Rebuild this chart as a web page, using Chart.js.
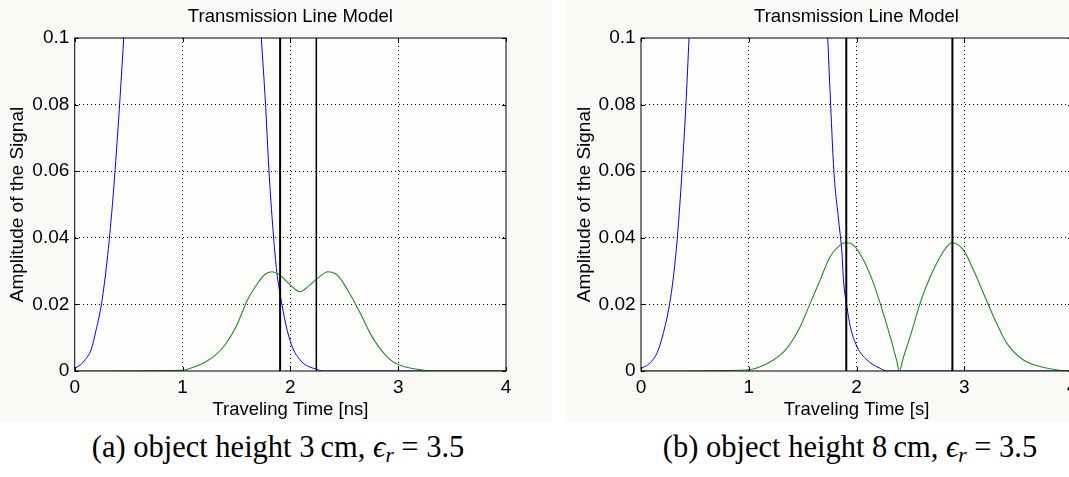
<!DOCTYPE html>
<html>
<head>
<meta charset="utf-8">
<title>Transmission Line Model</title>
<script src="https://cdn.jsdelivr.net/npm/chart.js@4.4.1/dist/chart.umd.min.js"></script>
<style>
  html, body { margin:0; padding:0; background:#ffffff; }
  body { width:1069px; height:477px; overflow:hidden; position:relative; }
  .fig { position:absolute; top:0; height:422px; background:#f9faf6; overflow:hidden; }
  #figA { left:0; width:552px; }
  #figB { left:567px; width:502px; }
  canvas { display:block; }
  .cap { position:absolute; top:430px; transform:translateX(-50%); font-family:"Liberation Serif","DejaVu Serif",serif; font-size:30.5px; line-height:34px; white-space:nowrap; color:#000; }
  .cap i { font-style:italic; }
  .cap sub { font-size:0.7em; vertical-align:-0.25em; line-height:0; }
</style>
</head>
<body>
<div class="fig" id="figA"><canvas id="chartA" width="552" height="422"></canvas></div>
<div class="fig" id="figB"><canvas id="chartB" width="540" height="422"></canvas></div>
<div class="cap" id="capA" style="left:278px">(a) object height 3&thinsp;cm, <i>ϵ</i><sub><i>r</i></sub> = 3.5</div>
<div class="cap" id="capB" style="left:850px">(b) object height 8&thinsp;cm, <i>ϵ</i><sub><i>r</i></sub> = 3.5</div>
<script>
// ---------------- data ----------------
const xTickValues = [0, 1, 2, 3, 4];
const xTickLabels = ['0', '1', '2', '3', '4'];
const yTickValues = [0, 0.02, 0.04, 0.06, 0.08, 0.1];
const yTickLabels = ['0', '0.02', '0.04', '0.06', '0.08', '0.1'];
const chartTitle = 'Transmission Line Model';
const yAxisTitle = 'Amplitude of the Signal';
const xAxisTitleA = 'Traveling Time [ns]';
const xAxisTitleB = 'Traveling Time [s]';

// (a) object height 3 cm
const blueTimeA = [0, 0.05, 0.1, 0.15, 0.2, 0.25, 0.3, 0.35, 0.4, 0.455, 0.5, 0.6, 0.8, 1.1, 1.4, 1.6, 1.68, 1.731, 1.77, 1.80, 1.84, 1.87, 1.89, 1.92, 1.97, 2.03, 2.08, 2.12, 2.18, 2.245, 2.3, 3.2, 4];
const blueAmpA  = [0.0008, 0.0018, 0.0035, 0.0062, 0.0125, 0.0205, 0.033, 0.05, 0.072, 0.1, 0.125, 0.2, 0.38, 0.5, 0.38, 0.2, 0.13, 0.1, 0.08, 0.061, 0.042, 0.031, 0.026, 0.0203, 0.0123, 0.0063, 0.0038, 0.0023, 0.0012, 0.0005, 0, 0, 0];
const greenTimeA = [0, 1.0, 1.1, 1.2, 1.3, 1.4, 1.5, 1.6, 1.7, 1.76, 1.83, 1.9, 2.0, 2.09, 2.18, 2.25, 2.35, 2.42, 2.46, 2.55, 2.65, 2.74, 2.83, 2.95, 3.08, 3.2, 3.3, 4];
const greenAmpA  = [0, 0.0002, 0.0011, 0.0025, 0.0046, 0.0081, 0.0135, 0.0212, 0.0265, 0.0289, 0.0298, 0.0289, 0.0258, 0.0238, 0.0258, 0.0278, 0.0298, 0.0292, 0.0279, 0.0233, 0.0173, 0.0113, 0.0068, 0.0028, 0.0011, 0.0004, 0, 0];
const markerTimesA = [1.905, 2.241];
const markerWidthsA = [2, 1.5];

// (b) object height 8 cm
const blueTimeB = [0, 0.05, 0.1, 0.15, 0.2, 0.265, 0.3, 0.337, 0.381, 0.417, 0.446, 0.5, 0.6, 0.8, 1.1, 1.4, 1.6, 1.68, 1.733, 1.76, 1.79, 1.835, 1.866, 1.88, 1.91, 1.943, 2.005, 2.098, 2.22, 2.28, 3.83, 4];
const blueAmpB  = [0.0008, 0.0016, 0.003, 0.0055, 0.0105, 0.02, 0.028, 0.04, 0.06, 0.08, 0.1, 0.135, 0.21, 0.39, 0.5, 0.39, 0.21, 0.135, 0.1, 0.08, 0.06, 0.045, 0.035, 0.027, 0.0195, 0.0133, 0.0073, 0.0033, 0.0008, 0, 0, 0];
const greenTimeB = [0, 0.98, 1.105, 1.229, 1.353, 1.477, 1.57, 1.662, 1.755, 1.848, 1.904, 1.972, 2.065, 2.158, 2.22, 2.313, 2.37, 2.40, 2.43, 2.498, 2.59, 2.684, 2.777, 2.85, 2.891, 2.993, 3.086, 3.179, 3.272, 3.396, 3.55, 3.71, 3.864, 4];
const greenAmpB  = [0, 0.0003, 0.0013, 0.0033, 0.0068, 0.0133, 0.0203, 0.0273, 0.0343, 0.0378, 0.0385, 0.0378, 0.0333, 0.0263, 0.0203, 0.0103, 0.0035, 0, 0.0035, 0.0103, 0.0203, 0.0283, 0.0343, 0.0378, 0.0385, 0.0363, 0.0303, 0.0233, 0.0163, 0.0083, 0.0033, 0.0013, 0.0003, 0];
const markerTimesB = [1.905, 2.89];
const markerWidthsB = [2, 2];

// ---------------- helpers ----------------
const FONT = '"Liberation Sans", Arial, Helvetica, sans-serif';
const toPoints = (ts, vs) => ts.map((t, i) => ({ x: t, y: vs[i] }));

const plotBackground = {
  id: 'plotBackground',
  beforeDraw(chart) {
    const { ctx, chartArea: a } = chart;
    ctx.save();
    ctx.fillStyle = '#fdfefc';
    ctx.fillRect(a.left, a.top, a.right - a.left, a.bottom - a.top);
    ctx.restore();
  }
};

const frameAndTicks = {
  id: 'frameAndTicks',
  afterDatasetsDraw(chart) {
    const { ctx, chartArea: a, scales } = chart;
    ctx.save();
    ctx.strokeStyle = '#000';
    ctx.lineWidth = 1;
    ctx.strokeRect(a.left, a.top, a.right - a.left, a.bottom - a.top);
    const L = 4;
    ctx.beginPath();
    xTickValues.forEach(v => {
      const px = Math.round(scales.x.getPixelForValue(v)) + 0.5;
      ctx.moveTo(px, a.bottom); ctx.lineTo(px, a.bottom - L);
      ctx.moveTo(px, a.top); ctx.lineTo(px, a.top + L);
    });
    yTickValues.forEach(v => {
      const py = Math.round(scales.y.getPixelForValue(v)) + 0.5;
      ctx.moveTo(a.left, py); ctx.lineTo(a.left + L, py);
      ctx.moveTo(a.right, py); ctx.lineTo(a.right - L, py);
    });
    ctx.stroke();
    ctx.restore();
  }
};

function gridColor(ctx) {
  const n = ctx.chart.scales[ctx.scale.id].ticks.length;
  return (ctx.index === 0 || ctx.index === n - 1) ? 'rgba(0,0,0,0)' : '#000';
}

function makeChart(canvasId, blueT, blueV, greenT, greenV, markerT, markerW, xTitle, plotLeft, plotRight) {
  const canvas = document.getElementById(canvasId);
  const W = canvas.width, H = canvas.height;
  const markers = markerT.map((t, i) => ({
    label: 'marker ' + (i + 1),
    data: [{ x: t, y: 0 }, { x: t, y: 0.1 }],
    borderColor: '#000',
    borderWidth: markerW[i],
    pointRadius: 0,
    tension: 0,
    fill: false
  }));
  return new Chart(canvas, {
    type: 'line',
    data: {
      datasets: [
        ...markers,
        { label: 'reflected', data: toPoints(greenT, greenV), borderColor: '#1f8c1f', borderWidth: 1.1,
          pointRadius: 0, cubicInterpolationMode: 'monotone', fill: false },
        { label: 'incident', data: toPoints(blueT, blueV), borderColor: '#0000ff', borderWidth: 1,
          pointRadius: 0, cubicInterpolationMode: 'monotone', fill: false }
      ]
    },
    options: {
      responsive: false,
      animation: false,
      events: [],
      layout: { padding: { left: 0, right: W - plotRight, top: 0, bottom: 0 } },
      plugins: {
        legend: { display: false },
        tooltip: { enabled: false },
        title: {
          display: true, text: chartTitle, fullSize: false, color: '#000',
          font: { family: FONT, size: 18.5, weight: 'normal', lineHeight: 1.2 },
          padding: { top: 6, bottom: 9.8 }
        }
      },
      scales: {
        x: {
          type: 'linear', min: 0, max: 4,
          afterBuildTicks: s => { s.ticks = xTickValues.map(v => ({ value: v })); },
          afterFit: s => { s.height = H - 371; },
          ticks: { callback: (v, i) => xTickLabels[i], color: '#000', padding: 5, maxRotation: 0, autoSkip: false,
                   font: { family: FONT, size: 19, lineHeight: 1.2 } },
          grid: { color: gridColor, lineWidth: 1, drawTicks: false },
          border: { display: false, dash: [1, 3] },
          title: { display: true, text: xTitle, color: '#000', padding: { top: 0, bottom: 1 },
                   font: { family: FONT, size: 18.5, lineHeight: 1.2 } }
        },
        y: {
          type: 'linear', min: 0, max: 0.1,
          afterBuildTicks: s => { s.ticks = yTickValues.map(v => ({ value: v })); },
          afterFit: s => { s.width = plotLeft; },
          ticks: { callback: (v, i) => yTickLabels[i], color: '#000', padding: 5.4,
                   font: { family: FONT, size: 19, lineHeight: 1.2 } },
          grid: { color: gridColor, lineWidth: 1, drawTicks: false },
          border: { display: false, dash: [1, 3] },
          title: { display: true, text: yAxisTitle, color: '#000', padding: { top: 8, bottom: 0 },
                   font: { family: FONT, size: 19, lineHeight: 1 } }
        }
      }
    },
    plugins: [plotBackground, frameAndTicks]
  });
}

makeChart('chartA', blueTimeA, blueAmpA, greenTimeA, greenAmpA, markerTimesA, markerWidthsA, xAxisTitleA, 74.7, 506);
makeChart('chartB', blueTimeB, blueAmpB, greenTimeB, greenAmpB, markerTimesB, markerWidthsB, xAxisTitleB, 74, 505);
</script>
</body>
</html>
